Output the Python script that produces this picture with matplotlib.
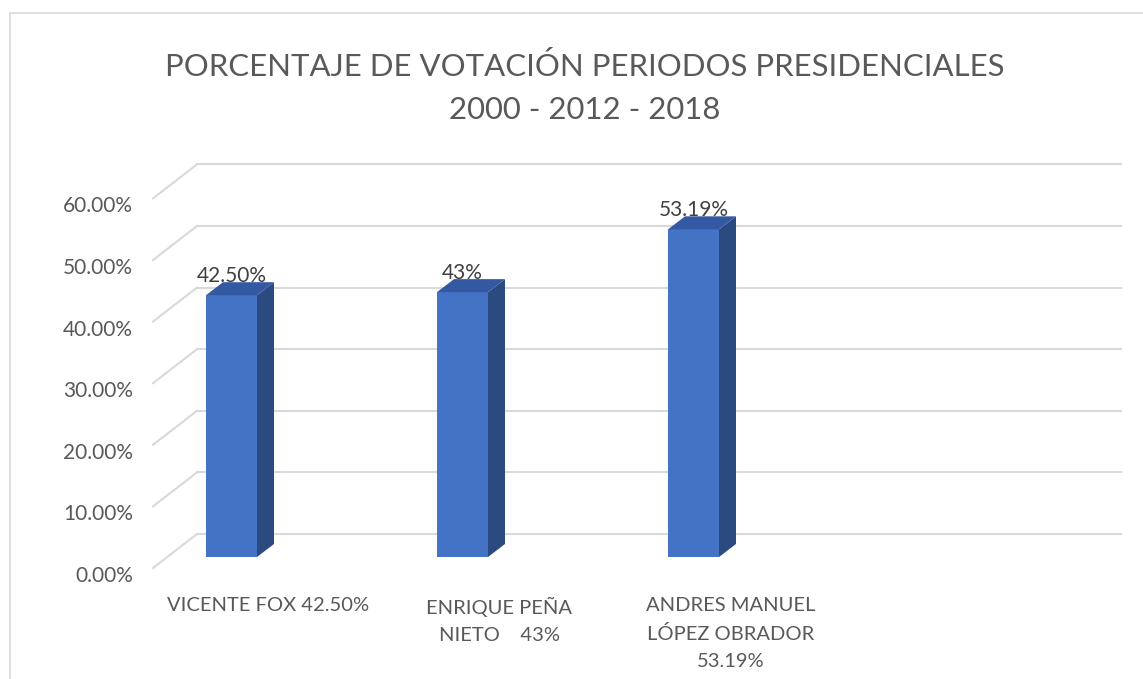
import matplotlib
matplotlib.use("Agg")
import matplotlib.pyplot as plt
from matplotlib.patches import Polygon, Rectangle
from matplotlib.transforms import ScaledTranslation
from matplotlib.lines import Line2D

plt.rcParams['font.family'] = ['Lato', 'DejaVu Sans']

# ---- data ----
categories = ["VICENTE FOX 42.50%", "ENRIQUE PEÑA\nNIETO    43%",
              "ANDRES MANUEL\nLÓPEZ OBRADOR\n53.19%"]
values = [42.50, 43.00, 53.19]
value_labels = ["42.50%", "43%", "53.19%"]
yticks = [0, 10, 20, 30, 40, 50, 60]
ytick_labels = ["0.00%", "10.00%", "20.00%", "30.00%", "40.00%", "50.00%", "60.00%"]
title = "PORCENTAJE DE VOTACIÓN PERIODOS PRESIDENCIALES\n2000 - 2012 - 2018"

W, H = 1143, 679
fig = plt.figure(figsize=(W / 100, H / 100), dpi=100)
fig.patch.set_facecolor("white")

# chart border
fig.add_artist(Rectangle((10 / W, 0 - 0.05), 1.2, 1 - 13 / H + 0.05,
                         transform=fig.transFigure, fill=False,
                         edgecolor="#d9d9d9", lw=1.2))

# axes = plane of the bar front faces
ax_left, ax_right = 167, 1091
ax_bottom, ax_top = 557, 557 - 6 * 61.6
ax = fig.add_axes([ax_left / W, 1 - ax_bottom / H,
                   (ax_right - ax_left) / W, (ax_bottom - ax_top) / H])
ax.set_xlim(-0.5, 3.5)
ax.set_ylim(0, 60)
ax.axis("off")

def off(dx_px, dy_px):
    # pixel offsets (image convention: +dy is downward)
    return ax.transData + ScaledTranslation(dx_px / 100, -dy_px / 100, fig.dpi_scale_trans)

back = (30, -23)
front = (-14, 11)
grid_c = "#d9d9d9"

# back wall gridlines and left-wall diagonals
for v in yticks:
    ax.add_line(Line2D([-0.5, 3.5], [v, v], transform=off(*back),
                       color=grid_c, lw=1.5, zorder=1, clip_on=False))
    p_front = off(*front).transform((-0.5, v))
    p_back = off(*back).transform((-0.5, v))
    fig.add_artist(Line2D([p_front[0], p_back[0]], [p_front[1], p_back[1]],
                          transform=None, color=grid_c, lw=1.5, zorder=1))

# y tick labels on the front edge
for v, lab in zip(yticks, ytick_labels):
    ax.text(-0.5, v, lab, transform=off(-14 - 20, 19), ha="right", va="center",
            fontsize=15, color="#595959", clip_on=False)

# bars
slot_px = (ax_right - ax_left) / 4
bar_w = 51 / slot_px
bar_shift = -51 / slot_px
px_per_y = (ax_bottom - ax_top) / 60
depth_dx = 17 / slot_px
depth_dy = 13 / px_per_y

front_c = "#4472c4"
side_c = "#2b4a80"
top_c = "#3459a3"

for i, v in enumerate(values):
    xc = i + bar_shift
    x0, x1 = xc - bar_w / 2, xc + bar_w / 2
    ax.bar(xc, v, width=bar_w, color=front_c, zorder=3, linewidth=0)
    ax.add_patch(Polygon([(x1, 0), (x1 + depth_dx, depth_dy),
                          (x1 + depth_dx, v + depth_dy), (x1, v)],
                         closed=True, facecolor=side_c, edgecolor="none", zorder=3))
    ax.add_patch(Polygon([(x0, v), (x1, v), (x1 + depth_dx, v + depth_dy),
                          (x0 + depth_dx, v + depth_dy)],
                         closed=True, facecolor=top_c, edgecolor="none", zorder=3))
    ax.text(xc, v, value_labels[i], transform=off(0, -13), ha="center",
            va="baseline", fontsize=15, color="#404040", zorder=2, clip_on=False)

# category labels at front edge
for i, lab in enumerate(categories):
    ax.text(i, 0, lab, transform=off(-14, 40), ha="center", va="top",
            fontsize=14.5, color="#595959", linespacing=1.72,
            multialignment="center", clip_on=False)

fig.text(585 / W, 1 - 88 / H, title, ha="center", va="center", fontsize=22.4,
         color="#595959", linespacing=1.62)

fig.savefig("out.png", dpi=100, facecolor="white")
